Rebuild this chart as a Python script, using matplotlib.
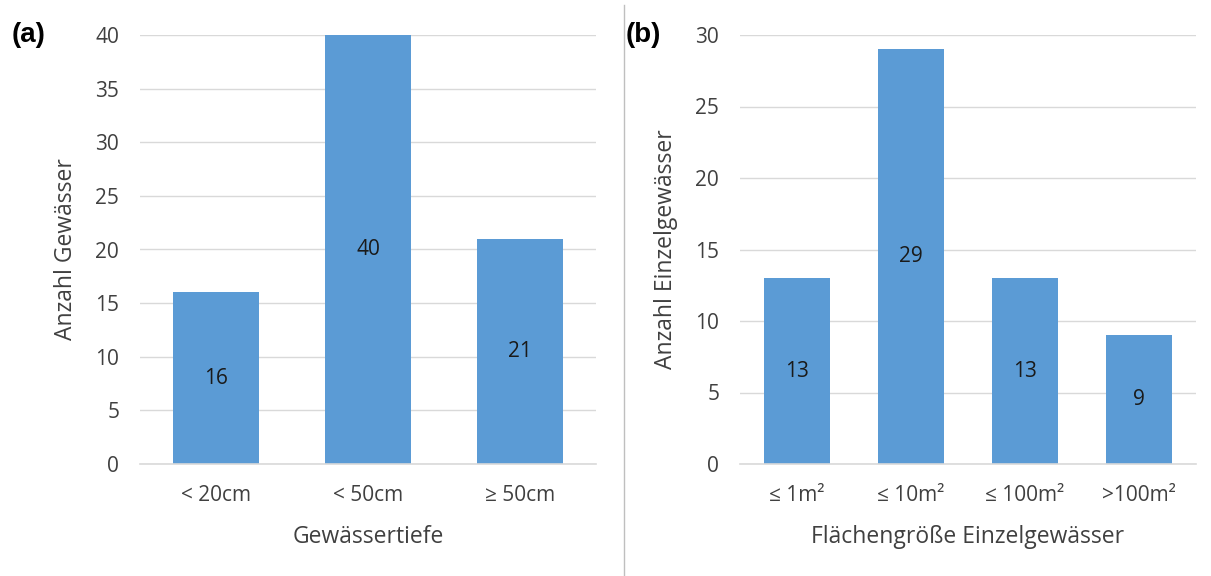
import matplotlib
matplotlib.use('Agg')
import matplotlib.pyplot as plt
from matplotlib.lines import Line2D

# data
depth_cats = ['< 20cm', '< 50cm', '≥ 50cm']
depth_vals = [16, 40, 21]
area_cats = ['≤ 1m²', '≤ 10m²', '≤ 100m²', '>100m²']
area_vals = [13, 29, 13, 9]

plt.rcParams['font.family'] = ['Open Sans', 'DejaVu Sans']

bar_color = '#5b9bd5'
grid_color = '#d9d9d9'
tick_color = '#404040'
W, H = 1211, 576

fig = plt.figure(figsize=(W / 100, H / 100), dpi=100)

def panel(rect, cats, vals, ymax, ystep, xlabel, ylabel, width):
  ax = fig.add_axes(rect)
  x = range(len(cats))
  ax.bar(x, vals, width=width, color=bar_color, zorder=2)
  for i, v in enumerate(vals):
    ax.text(i, v / 2, str(v), ha='center', va='center', fontsize=15, color='#1a1a1a', zorder=3)
  ax.set_xlim(-0.5, len(cats) - 0.5)
  ax.set_ylim(0, ymax)
  ax.set_yticks(range(0, ymax + 1, ystep))
  ax.set_xticks(list(x))
  ax.set_xticklabels(cats)
  ax.yaxis.grid(True, color=grid_color, linewidth=1, zorder=0)
  ax.set_axisbelow(True)
  for s in ['top', 'right', 'left']:
    ax.spines[s].set_visible(False)
  ax.spines['bottom'].set_color(grid_color)
  ax.spines['bottom'].set_linewidth(1.2)
  ax.tick_params(axis='both', length=0, labelsize=15, colors=tick_color)
  ax.tick_params(axis='y', pad=15)
  ax.tick_params(axis='x', pad=15)
  ax.set_xlabel(xlabel, fontsize=16.5, color='#404040', labelpad=14)
  ax.set_ylabel(ylabel, fontsize=16.5, color='#404040', labelpad=12)
  return ax

bottom = (H - 464) / H
height = 429 / H
panel([140 / W, bottom, 456 / W, height], depth_cats, depth_vals, 40, 5,
      'Gewässertiefe', 'Anzahl Gewässer', 0.57)
panel([740 / W, bottom, 456 / W, height], area_cats, area_vals, 30, 5,
      'Flächengröße Einzelgewässer', 'Anzahl Einzelgewässer', 0.58)

fig.text(29 / W, 1 - 35 / H, '(a)', fontsize=20, fontweight='bold', family='Liberation Sans',
         ha='center', va='center')
fig.text(643 / W, 1 - 35 / H, '(b)', fontsize=20, fontweight='bold', family='Liberation Sans',
         ha='center', va='center')

# divider between panels
fig.add_artist(Line2D([624 / W, 624 / W], [0, 1 - 5 / H], transform=fig.transFigure,
                      color='#bfbfbf', linewidth=1))

fig.savefig('out.png', dpi=100, facecolor='white')
